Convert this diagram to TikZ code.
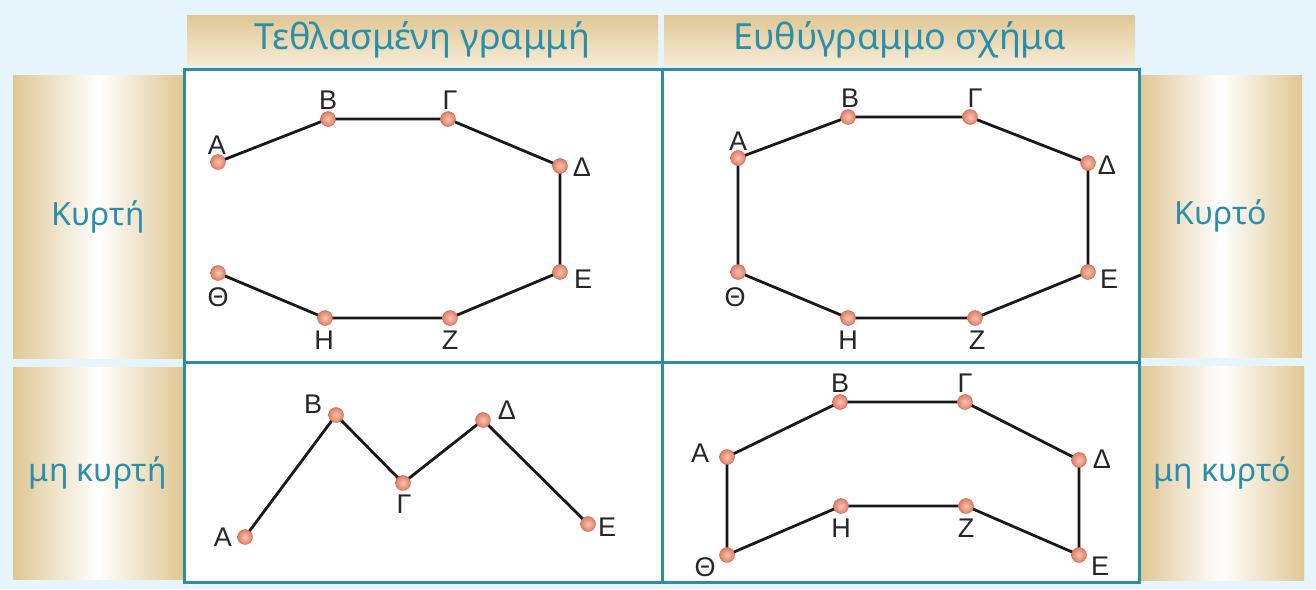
\documentclass[tikz,border=0pt]{standalone}
\usepackage{fontspec}
\setmainfont{Liberation Sans}
\newfontfamily\hdrfont{Noto Sans}
\pgfdeclarelayer{background}
\pgfsetlayers{background,main}
\definecolor{bgblue}{HTML}{E6F4FB}
\definecolor{framecol}{HTML}{2E8DA6}
\definecolor{paneltan}{HTML}{E0C794}
\definecolor{panellight}{HTML}{F6EBD5}
\definecolor{txtcol}{HTML}{2A8FAA}
\definecolor{dotcol}{HTML}{E27C62}
\definecolor{dotlight}{HTML}{F8C6B4}
\tikzset{
  sidepanel/.style={draw=none, left color=paneltan, right color=paneltan, middle color=white,
    inner sep=0pt, text=txtcol, font=\hdrfont\fontsize{32}{36}\selectfont},
  hdrbar/.style={draw=none, top color=paneltan, bottom color=panellight,
    inner sep=0pt, text=txtcol, font=\hdrfont\fontsize{36}{40}\selectfont},
  dot/.style={circle, inner sep=0pt, minimum size=15pt, shading=radial,
    inner color=dotlight, outer color=dotcol, draw=dotcol!85!black, line width=0.4pt},
  lbl/.style={inner sep=0pt, font=\fontsize{27}{29}\selectfont, text=black!85},
  seg/.style={line width=2.8pt, black!90, line join=round},
  frame/.style={draw=framecol, line width=3pt}
}
\begin{document}
\begin{tikzpicture}[x=1pt,y=-1pt]
\useasboundingbox (0,0) rectangle (1316,589);
\begin{pgfonlayer}{background}
\fill[bgblue] (0,0) rectangle (1316,589);
\fill[white] (184,69) rectangle (1139,582);
\end{pgfonlayer}
% headers
\node[hdrbar, minimum width=471pt, minimum height=50pt] (h1) at (422.5,40) {Τεθλασμένη γραμμή};
\node[hdrbar, minimum width=471pt, minimum height=50pt] (h2) at (899.5,40) {Ευθύγραμμο σχήμα};
% side panels
\node[sidepanel, minimum width=170pt, minimum height=283pt] (r1l) at (98,216.5) {Κυρτή};
\node[sidepanel, minimum width=170pt, minimum height=212pt] (r2l) at (98,473) {μη κυρτή};
\node[sidepanel, minimum width=162pt, minimum height=282pt] (r1r) at (1221,216) {Κυρτό};
\node[sidepanel, minimum width=164pt, minimum height=214pt] (r2r) at (1222,473) {μη κυρτό};
% frame
\draw[frame] (184,69) rectangle (1139,582);
\draw[frame] (662,69) -- (662,582);
\draw[frame] (184,362) -- (1139,362);

% ---- top-left: convex broken line
\node[dot] (aA) at (218,162) {}; \node[lbl] (aAl) at (217,145) {Α};
\node[dot] (aB) at (328,119) {}; \node[lbl] (aBl) at (328,100) {Β};
\node[dot] (aG) at (448,119) {}; \node[lbl] (aGl) at (450,100) {Γ};
\node[dot] (aD) at (560,166) {}; \node[lbl] (aDl) at (582,167) {Δ};
\node[dot] (aE) at (560,272) {}; \node[lbl] (aEl) at (583,279) {Ε};
\node[dot] (aZ) at (450,318) {}; \node[lbl] (aZl) at (450,340) {Ζ};
\node[dot] (aH) at (325,318) {}; \node[lbl] (aHl) at (324,340) {Η};
\node[dot] (aT) at (218,273) {}; \node[lbl] (aTl) at (218,297) {Θ};
% ---- top-right: convex polygon
\node[dot] (bA) at (738,158) {}; \node[lbl] (bAl) at (738,141) {Α};
\node[dot] (bB) at (848,117) {}; \node[lbl] (bBl) at (850,98) {Β};
\node[dot] (bG) at (970,117) {}; \node[lbl] (bGl) at (975,98) {Γ};
\node[dot] (bD) at (1088,163) {}; \node[lbl] (bDl) at (1107,165) {Δ};
\node[dot] (bE) at (1088,272) {}; \node[lbl] (bEl) at (1109,279) {Ε};
\node[dot] (bZ) at (975,318) {}; \node[lbl] (bZl) at (977,340) {Ζ};
\node[dot] (bH) at (848,318) {}; \node[lbl] (bHl) at (848,340) {Η};
\node[dot] (bT) at (738,272) {}; \node[lbl] (bTl) at (735,297) {Θ};
% ---- bottom-left: non-convex broken line
\node[dot] (cA) at (245,537) {}; \node[lbl] (cAl) at (223,537) {Α};
\node[dot] (cB) at (336,415) {}; \node[lbl] (cBl) at (313,404) {Β};
\node[dot] (cG) at (403,483) {}; \node[lbl] (cGl) at (404,504) {Γ};
\node[dot] (cD) at (483,420) {}; \node[lbl] (cDl) at (507,410) {Δ};
\node[dot] (cE) at (588,524) {}; \node[lbl] (cEl) at (607,527) {Ε};
% ---- bottom-right: non-convex polygon
\node[dot] (dA) at (727,457) {}; \node[lbl] (dAl) at (700,453) {Α};
\node[dot] (dB) at (840,402) {}; \node[lbl] (dBl) at (840,383) {Β};
\node[dot] (dG) at (965,402) {}; \node[lbl] (dGl) at (965,383) {Γ};
\node[dot] (dD) at (1079,460) {}; \node[lbl] (dDl) at (1102,459) {Δ};
\node[dot] (dE) at (1079,555) {}; \node[lbl] (dEl) at (1100,566) {Ε};
\node[dot] (dZ) at (966,506) {}; \node[lbl] (dZl) at (966,528) {Ζ};
\node[dot] (dH) at (841,506) {}; \node[lbl] (dHl) at (841,528) {Η};
\node[dot] (dT) at (727,555) {}; \node[lbl] (dTl) at (705,567) {Θ};

\begin{pgfonlayer}{background}
\draw[seg] (aA.center) -- (aB.center) -- (aG.center) -- (aD.center) -- (aE.center) -- (aZ.center) -- (aH.center) -- (aT.center);
\draw[seg] (bA.center) -- (bB.center) -- (bG.center) -- (bD.center) -- (bE.center) -- (bZ.center) -- (bH.center) -- (bT.center) -- cycle;
\draw[seg] (cA.center) -- (cB.center) -- (cG.center) -- (cD.center) -- (cE.center);
\draw[seg] (dA.center) -- (dB.center) -- (dG.center) -- (dD.center) -- (dE.center) -- (dZ.center) -- (dH.center) -- (dT.center) -- cycle;
\end{pgfonlayer}
\end{tikzpicture}
\end{document}
